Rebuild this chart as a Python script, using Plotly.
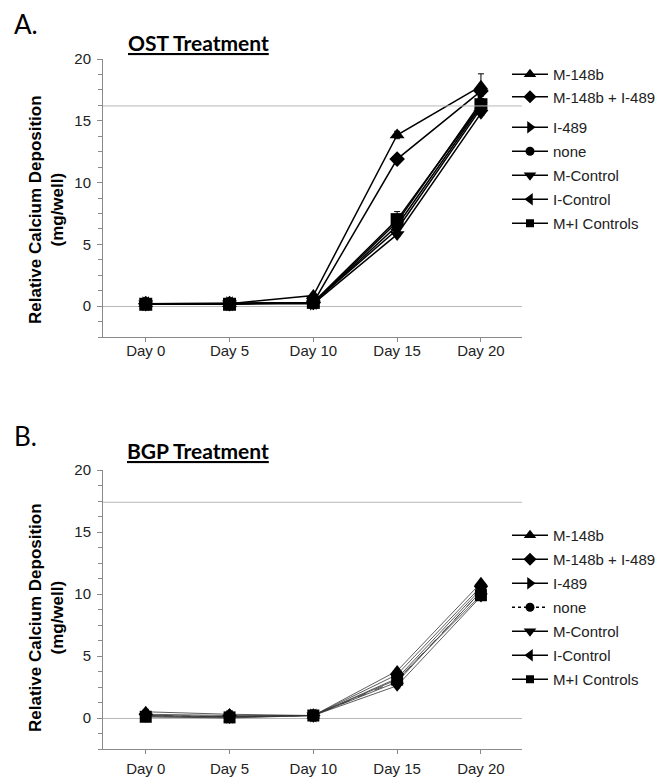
import plotly.graph_objects as go

days = ["Day 0", "Day 5", "Day 10", "Day 15", "Day 20"]
series_names = ["M-148b", "M-148b + I-489", "I-489", "none", "M-Control", "I-Control", "M+I Controls"]
symbols = ["triangle-up", "diamond", "triangle-right", "circle", "triangle-down", "triangle-left", "square"]
marker_sizes = [13, 12, 13, 11, 13, 13, 13]
legend_marker_sizes = [11, 10, 11, 9, 11, 11, 8]

# Panel A: OST treatment (mg/well)
ost_m148b = [0.2, 0.2, 0.85, 13.85, 17.8]
ost_m148b_i489 = [0.2, 0.2, 0.3, 11.9, 17.4]
ost_i489 = [0.2, 0.2, 0.25, 6.8, 16.5]
ost_none = [0.2, 0.2, 0.25, 6.5, 16.2]
ost_mcontrol = [0.2, 0.2, 0.2, 5.8, 15.6]
ost_icontrol = [0.2, 0.2, 0.3, 6.2, 16.0]
ost_micontrols = [0.15, 0.15, 0.3, 7.0, 16.3]
ost_err_m148b = [0, 0, 0, 0.3, 1.0]
ost_err_m148b_i489 = [0, 0, 0, 0.3, 0.4]
ost_err_micontrols = [0, 0, 0, 0.65, 0.3]

# Panel B: BGP treatment (mg/well)
bgp_m148b = [0.5, 0.3, 0.2, 3.8, 10.9]
bgp_m148b_i489 = [0.3, 0.2, 0.2, 3.5, 10.6]
bgp_i489 = [0.2, 0.1, 0.2, 3.2, 10.4]
bgp_none = [0.2, 0.1, 0.2, 3.0, 10.2]
bgp_mcontrol = [0.1, 0.0, 0.2, 2.6, 9.8]
bgp_icontrol = [0.2, 0.1, 0.2, 2.9, 10.2]
bgp_micontrols = [0.1, 0.05, 0.2, 3.1, 9.9]

ost_ref_line = 16.2
bgp_ref_line = 17.4

ost_series = [ost_m148b, ost_m148b_i489, ost_i489, ost_none, ost_mcontrol, ost_icontrol, ost_micontrols]
ost_errors = [ost_err_m148b, ost_err_m148b_i489, None, None, None, None, ost_err_micontrols]
bgp_series = [bgp_m148b, bgp_m148b_i489, bgp_i489, bgp_none, bgp_mcontrol, bgp_icontrol, bgp_micontrols]

W, H = 660, 783
def px_x(p):
    return p / W
def px_y(p):
    return 1 - p / H

fig = go.Figure()

for i, (name, vals) in enumerate(zip(series_names, ost_series)):
    err = ost_errors[i]
    fig.add_trace(go.Scatter(
        x=days, y=vals, name=name, mode="lines+markers",
        xaxis="x", yaxis="y", showlegend=False,
        line=dict(color="black", width=1.5),
        marker=dict(symbol=symbols[i], size=marker_sizes[i], color="black"),
        error_y=(dict(type="data", array=err, visible=True, color="black", thickness=1, width=3)
                 if err is not None else None),
    ))
    # legend entry (no data, only the legend symbol)
    fig.add_trace(go.Scatter(
        x=[None], y=[None], name=name, mode="lines+markers",
        xaxis="x", yaxis="y",
        line=dict(color="black", width=1.5),
        marker=dict(symbol=symbols[i], size=legend_marker_sizes[i], color="black"),
        legend="legend" if i < 2 else "legend2",
        legendgroup=f"A{i}",
    ))

for i, (name, vals) in enumerate(zip(series_names, bgp_series)):
    dash = "dash" if name == "none" else "solid"
    fig.add_trace(go.Scatter(
        x=days, y=vals, name=name, mode="lines+markers",
        xaxis="x2", yaxis="y2", showlegend=False,
        line=dict(color="#333", width=0.8, dash=dash),
        marker=dict(symbol=symbols[i], size=marker_sizes[i] - 1, color="black"),
    ))
    fig.add_trace(go.Scatter(
        x=[None], y=[None], name=name, mode="lines+markers",
        xaxis="x2", yaxis="y2",
        line=dict(color="black", width=1.3, dash="dot" if name == "none" else "solid"),
        marker=dict(symbol=symbols[i], size=legend_marker_sizes[i], color="black"),
        legend="legend3",
        legendgroup=f"B{i}",
    ))

axis_color = "#8a8a8a"
tick_font = dict(family="Liberation Sans, Arial", size=15, color="#222")

def yax(domain, anchor):
    return dict(
        domain=domain, anchor=anchor, range=[-2.5, 20], tick0=0, dtick=5,
        ticks="outside", ticklen=5, tickcolor=axis_color, tickfont=tick_font,
        ticklabelstandoff=3,
        minor=dict(dtick=1.25, tick0=0, ticks="outside", ticklen=4, tickcolor=axis_color),
        showline=True, linecolor=axis_color, linewidth=1,
        showgrid=False, zeroline=True, zerolinecolor="#b8b8b8", zerolinewidth=1,
        automargin=False, fixedrange=True,
    )

def xax(anchor, standoff):
    return dict(
        domain=[px_x(103), px_x(522)], anchor=anchor, type="category",
        range=[-0.51, 4.49], ticks="outside", ticklen=4, tickcolor=axis_color,
        tickfont=tick_font, showline=True, linecolor=axis_color, linewidth=1,
        ticklabelstandoff=standoff,
        showgrid=False, zeroline=False, automargin=False,
    )

legend_font = dict(family="Liberation Sans, Arial", size=15, color="#222")
def leg(top_px, gap):
    return dict(
        x=px_x(507), xanchor="left", y=px_y(top_px), yanchor="top",
        font=legend_font, itemsizing="trace", itemwidth=36, traceorder="grouped",
        tracegroupgap=gap, bgcolor="rgba(0,0,0,0)", borderwidth=0,
    )

fig.update_layout(
    width=W, height=H,
    margin=dict(l=0, r=0, t=0, b=0, autoexpand=False),
    paper_bgcolor="white", plot_bgcolor="white",
    xaxis=xax("y", -4),
    yaxis=yax([px_y(337), px_y(59)], "x"),
    xaxis2=xax("y2", 2),
    yaxis2=yax([px_y(749), px_y(470)], "x2"),
    legend=leg(58, 0),
    legend2=leg(111, 1.5),
    legend3=leg(519, 1.5),
    showlegend=True,
    shapes=[
        dict(type="line", xref="x domain", yref="y", x0=0, x1=1,
             y0=ost_ref_line, y1=ost_ref_line, line=dict(color="#b8b8b8", width=1)),
        dict(type="line", xref="x2 domain", yref="y2", x0=0, x1=1,
             y0=bgp_ref_line, y1=bgp_ref_line, line=dict(color="#b8b8b8", width=1)),
    ],
    annotations=[
        dict(text="A.", x=px_x(12), y=px_y(24), xref="paper", yref="paper",
             xanchor="left", yanchor="middle", showarrow=False,
             font=dict(family="Lato", size=26, color="black")),
        dict(text="B.", x=px_x(12), y=px_y(436), xref="paper", yref="paper",
             xanchor="left", yanchor="middle", showarrow=False,
             font=dict(family="Lato", size=26, color="black")),
        dict(text="<b><u>OST Treatment</u></b>", x=px_x(198), y=px_y(43), xref="paper", yref="paper",
             xanchor="center", yanchor="middle", showarrow=False,
             font=dict(family="Lato", size=21, color="black")),
        dict(text="<b><u>BGP Treatment</u></b>", x=px_x(198), y=px_y(450), xref="paper", yref="paper",
             xanchor="center", yanchor="middle", showarrow=False,
             font=dict(family="Lato", size=21, color="black")),
        dict(text="<b>Relative Calcium Deposition<br>(mg/well)</b>", x=px_x(46), y=px_y(210),
             xref="paper", yref="paper", xanchor="center", yanchor="middle", showarrow=False,
             textangle=-90, font=dict(family="Liberation Sans, Arial", size=17, color="black")),
        dict(text="<b>Relative Calcium Deposition<br>(mg/well)</b>", x=px_x(46), y=px_y(618),
             xref="paper", yref="paper", xanchor="center", yanchor="middle", showarrow=False,
             textangle=-90, font=dict(family="Liberation Sans, Arial", size=17, color="black")),
    ],
)

fig.write_html("out.html")
